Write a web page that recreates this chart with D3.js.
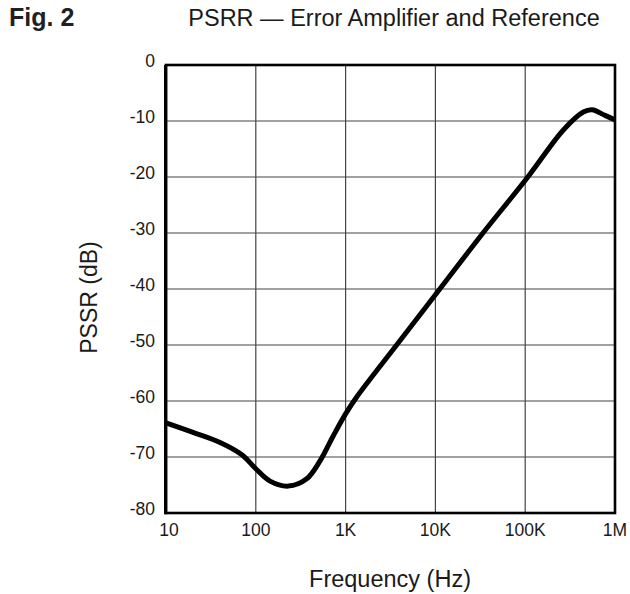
<!DOCTYPE html>
<html><head><meta charset="utf-8">
<script src="https://cdn.jsdelivr.net/npm/d3@7"></script>
<style>body{margin:0;background:#fff}svg{display:block}</style>
</head><body>
<script>
const freq = [10, 20, 40, 70, 100, 144, 230, 369, 519, 730, 1000, 1300, 3700, 11200, 33900, 107000, 266000, 444000, 555000, 774000, 1000000];
const psrr = [-63.9, -65.6, -67.4, -69.6, -72.1, -74.3, -75.2, -73.9, -70.7, -66.2, -62.3, -59.5, -50, -40, -30, -20, -11.6, -8.4, -8.0, -9.0, -9.8];
const xTicks = [10, 100, 1000, 10000, 100000, 1000000];
const xTickLabels = ["10", "100", "1K", "10K", "100K", "1M"];
const yTicks = [0, -10, -20, -30, -40, -50, -60, -70, -80];

const W = 630, H = 594;
const L = 166, R = 615, T = 65, B = 513;
const font = "'Liberation Sans', Arial, Helvetica, sans-serif";
const svg = d3.select("body").append("svg").attr("width", W).attr("height", H);
const x = d3.scaleLog().domain([10, 1e6]).range([L, R]);
const y = d3.scaleLinear().domain([-80, 0]).range([B, T]);

// grid
svg.append("g").selectAll("line").data(xTicks.slice(1, -1)).join("line")
  .attr("x1", d => x(d)).attr("x2", d => x(d)).attr("y1", T).attr("y2", B)
  .attr("stroke", "#444").attr("stroke-width", 1.2);
svg.append("g").selectAll("line").data(yTicks.slice(1, -1)).join("line")
  .attr("x1", L).attr("x2", R).attr("y1", d => y(d)).attr("y2", d => y(d))
  .attr("stroke", "#444").attr("stroke-width", 1.2);

// frame
svg.append("rect").attr("x", L).attr("y", T).attr("width", R - L).attr("height", B - T)
  .attr("fill", "none").attr("stroke", "#000").attr("stroke-width", 2.6);
svg.append("line").attr("x1", L - 0.4).attr("x2", L - 0.4).attr("y1", T).attr("y2", B + 1.3)
  .attr("stroke", "#000").attr("stroke-width", 3.2);

// curve
const pts = freq.map((f, i) => [f, psrr[i]]);
svg.append("path").datum(pts)
  .attr("d", d3.line().x(d => x(d[0])).y(d => y(d[1])).curve(d3.curveCatmullRom.alpha(0.5)))
  .attr("fill", "none").attr("stroke", "#000").attr("stroke-width", 5)
  .attr("stroke-linejoin", "round").attr("stroke-linecap", "butt");

// y tick labels
svg.append("g").selectAll("text").data(yTicks).join("text")
  .attr("x", 155).attr("y", d => y(d) - 4).attr("dy", "0.35em")
  .attr("text-anchor", "end").attr("font-family", font).attr("font-size", 17.5)
  .attr("fill", "#1a1a1a").text(d => d);

// x tick labels
svg.append("g").selectAll("text").data(xTicks).join("text")
  .attr("x", (d, i) => x(d) + (i === 0 ? 3 : 0)).attr("y", 536)
  .attr("text-anchor", "middle").attr("font-family", font).attr("font-size", 17.5)
  .attr("fill", "#1a1a1a").text((d, i) => xTickLabels[i]);

// axis titles
svg.append("text").attr("x", 390).attr("y", 586.5).attr("text-anchor", "middle")
  .attr("font-family", font).attr("font-size", 23.5).attr("fill", "#1a1a1a").text("Frequency (Hz)");
svg.append("text").attr("transform", "translate(96.5,297.5) rotate(-90)").attr("text-anchor", "middle")
  .attr("font-family", font).attr("font-size", 23).attr("fill", "#1a1a1a").text("PSSR (dB)");

// titles
svg.append("text").attr("x", 9).attr("y", 26).attr("font-family", font).attr("font-weight", "bold")
  .attr("font-size", 25).attr("fill", "#231f20").text("Fig. 2");
svg.append("text").attr("x", 394).attr("y", 26).attr("text-anchor", "middle").attr("font-family", font)
  .attr("font-size", 23.5).attr("fill", "#1a1a1a").text("PSRR — Error Amplifier and Reference");
</script>
</body></html>
